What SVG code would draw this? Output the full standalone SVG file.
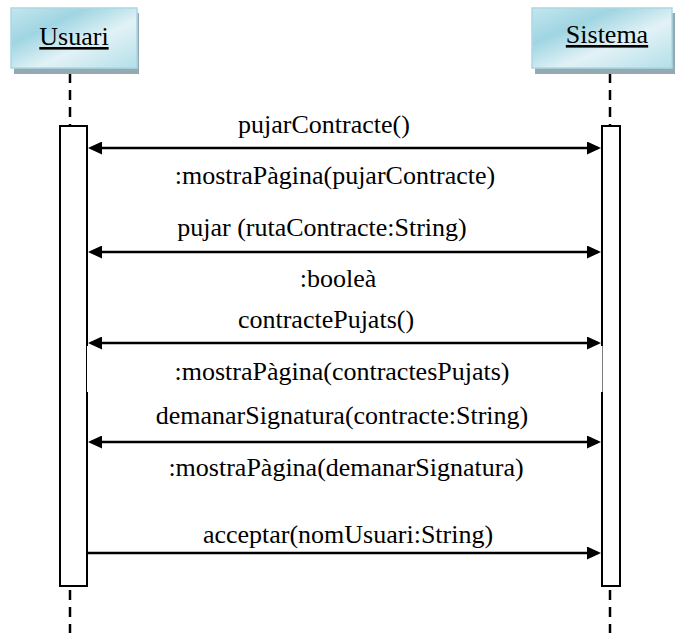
<svg xmlns="http://www.w3.org/2000/svg" width="675" height="633" viewBox="0 0 675 633">
  <style>
    .lbl { font-family: "Liberation Serif", "Times New Roman", serif; font-size: 26px; fill: #000; text-anchor: middle; }
    .title { font-family: "Liberation Serif", "Times New Roman", serif; font-size: 26px; fill: #000; text-anchor: middle; text-decoration: underline; }
    .head { fill: url(#headFill); stroke: #a9d9e4; stroke-width: 1.5; }
    .shadow { fill: #94a9b1; }
    .life { stroke: #000; stroke-width: 2.5; stroke-dasharray: 10 7; fill: none; }
    .act { fill: #fff; stroke: #000; stroke-width: 2; }
    .msg { stroke: #000; stroke-width: 2.5; fill: none; }
    .both { marker-start: url(#arrow); marker-end: url(#arrow); }
    .fwd { marker-end: url(#arrow); }
  </style>
  <defs>
    <linearGradient id="headFill" x1="0" y1="0" x2="1" y2="1">
      <stop offset="0" stop-color="#c4e6ee"/>
      <stop offset="0.3" stop-color="#9fd5e2"/>
      <stop offset="0.6" stop-color="#e2f2f6"/>
      <stop offset="1" stop-color="#b3dfe9"/>
    </linearGradient>
    <marker id="arrow" viewBox="0 0 14 13" refX="11" refY="6.5" markerWidth="14" markerHeight="13" markerUnits="userSpaceOnUse" orient="auto-start-reverse">
      <path d="M0,0 L14,6.5 L0,13 z" fill="#000"/>
    </marker>
  </defs>

  <rect width="675" height="633" fill="#fff"/>

  <!-- lifelines -->
  <g id="lifelines">
    <line class="life" x1="70" y1="73" x2="70" y2="126"/>
    <line class="life" x1="70" y1="590" x2="70" y2="633"/>
    <line class="life" x1="610" y1="73" x2="610" y2="126"/>
    <line class="life" x1="610" y1="590" x2="610" y2="633"/>
  </g>

  <!-- participant: Usuari -->
  <g id="usuari">
    <rect class="shadow" x="14" y="13" width="125" height="61"/>
    <rect class="head" x="11" y="8" width="126" height="60"/>
    <text class="title" x="74" y="45">Usuari</text>
    <rect class="act" x="60" y="126" width="27" height="460"/>
  </g>

  <!-- participant: Sistema -->
  <g id="sistema">
    <rect class="shadow" x="535" y="13" width="140" height="61"/>
    <rect class="head" x="532" y="8" width="140" height="60"/>
    <text class="title" x="607" y="43">Sistema</text>
    <rect class="act" x="602" y="126" width="18" height="460"/>
  </g>

  <!-- blank band behind the contractesPujats reply -->
  <rect x="87" y="346" width="515.5" height="46" fill="#fff"/>

  <!-- messages -->
  <g id="connectors">
    <line class="msg both" x1="91" y1="148" x2="598" y2="148"/>
    <line class="msg both" x1="91" y1="252" x2="598" y2="252"/>
    <line class="msg both" x1="91" y1="343" x2="598" y2="343"/>
    <line class="msg both" x1="91" y1="442" x2="598" y2="442"/>
    <line class="msg fwd" x1="88" y1="553" x2="598" y2="553"/>
  </g>

  <!-- message labels -->
  <g id="labels">
    <text class="lbl" x="324" y="133">pujarContracte()</text>
    <text class="lbl" x="335" y="184">:mostraPàgina(pujarContracte)</text>
    <text class="lbl" x="322" y="236">pujar (rutaContracte:String)</text>
    <text class="lbl" x="338" y="287">:booleà</text>
    <text class="lbl" x="326" y="328">contractePujats()</text>
    <text class="lbl" x="342" y="380">:mostraPàgina(contractesPujats)</text>
    <text class="lbl" x="342" y="424">demanarSignatura(contracte:String)</text>
    <text class="lbl" x="346" y="476">:mostraPàgina(demanarSignatura)</text>
    <text class="lbl" x="348" y="543">acceptar(nomUsuari:String)</text>
  </g>
</svg>
